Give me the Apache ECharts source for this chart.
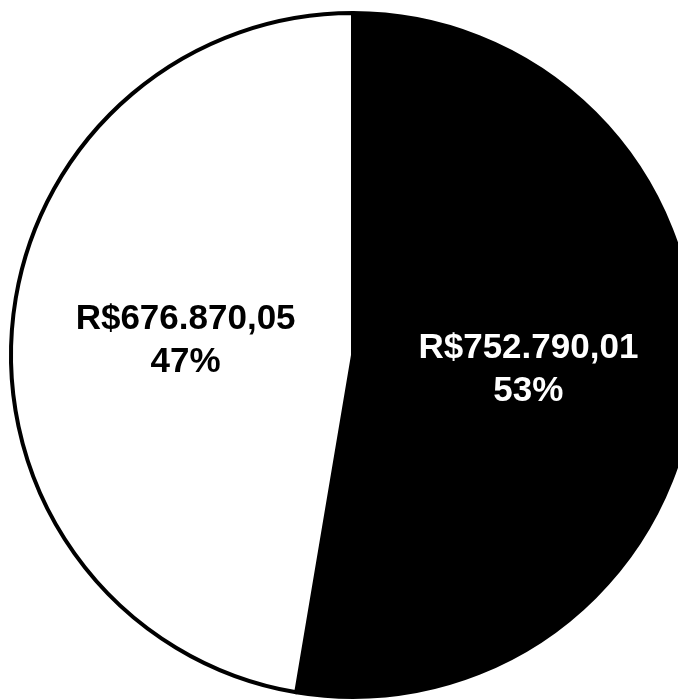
<!DOCTYPE html>
<html>
<head>
<meta charset="utf-8">
<script src="https://cdn.jsdelivr.net/npm/echarts@6/dist/echarts.min.js"></script>
<style>
  html, body { margin: 0; padding: 0; background: #ffffff; }
</style>
</head>
<body>
<div id="pieChart" style="width: 678px;height: 700px;"></div>
<script>
// values in R$
const names = ['B', 'A'];
const values = [752790.01, 676870.05];
const valueLabels = ['R$752.790,01', 'R$676.870,05'];
const sliceColors = ['#000000', '#ffffff'];
const labelColors = ['#ffffff', '#000000'];
const labelPadding = [[8, 0, 0, 4], [12, 0, 0, 12]];

let pieChart = echarts.init(document.getElementById('pieChart'));
let option = {
  animation: false,
  backgroundColor: '#ffffff',
  series: [
    {
      type: 'pie',
      center: [353, 355],
      radius: 342,
      startAngle: 90,
      clockwise: true,
      avoidLabelOverlap: false,
      emphasis: {disabled: true},
      labelLine: {show: false},
      data: names.map(function (n, i) {
        return {
          name: n,
          value: values[i],
          itemStyle: {
            color: sliceColors[i],
            borderColor: '#000000',
            borderWidth: 4
          },
          label: {
            show: true,
            position: 'inside',
            color: labelColors[i],
            padding: labelPadding[i],
            fontFamily: 'Liberation Sans, Arial, sans-serif',
            fontWeight: 'bold',
            fontSize: 35,
            lineHeight: 43,
            align: 'center',
            formatter: function (p) {
              return valueLabels[p.dataIndex] + '\n' + Math.round(p.percent) + '%';
            }
          }
        };
      })
    }
  ]
};
pieChart.setOption(option);
</script>
</body>
</html>
